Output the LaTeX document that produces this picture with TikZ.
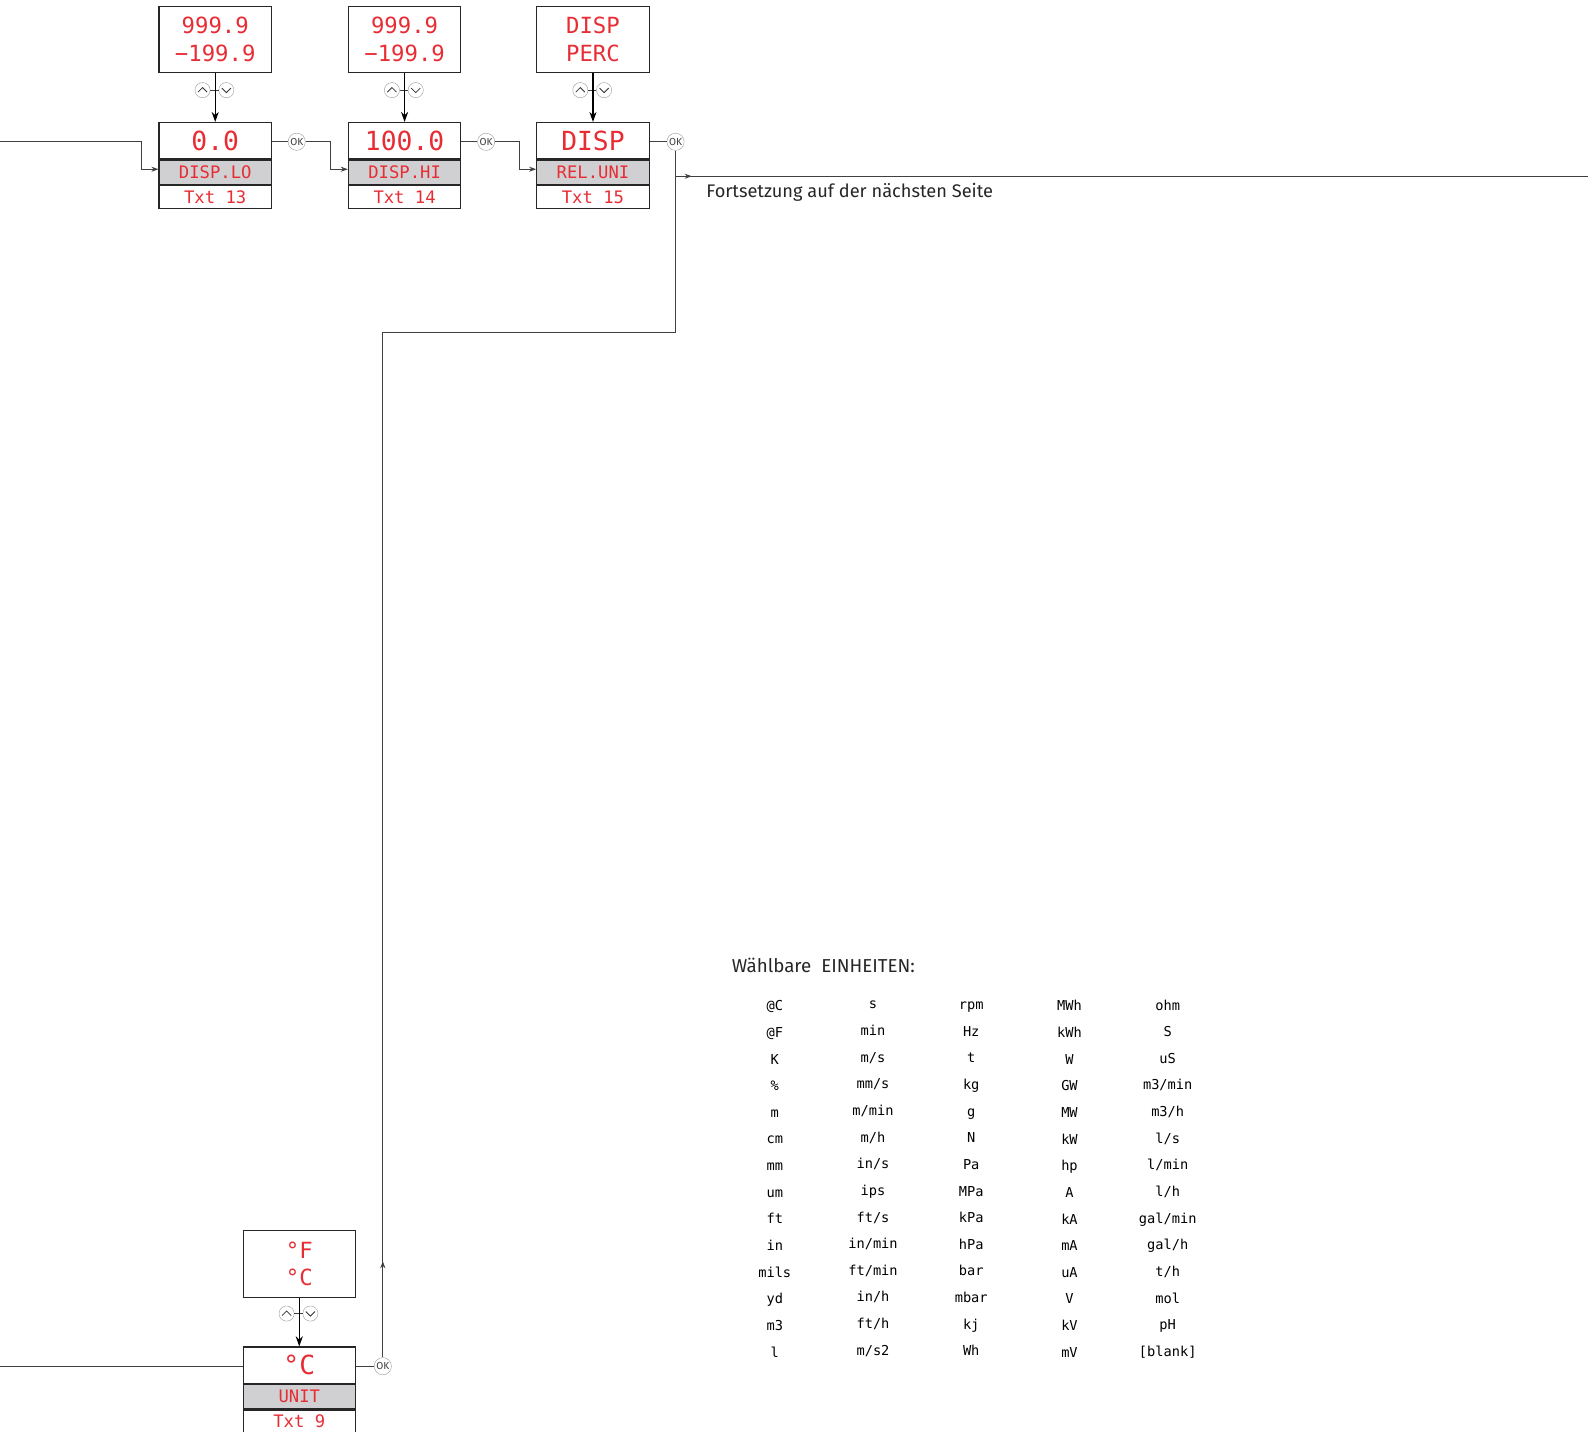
\documentclass[tikz,border=0pt]{standalone}
\usepackage{fontspec}
\setmainfont{Fira Sans}
\newfontfamily\lcdfont{DejaVu Sans Mono}
\usepackage{xcolor}
\definecolor{lcdred}{RGB}{232,44,52}
\definecolor{lcdgray}{RGB}{208,208,210}
\colorlet{colorFlow}{black!75}
\usetikzlibrary{arrows.meta, positioning, decorations.markings}
\tikzset{
  sel/.style={draw=black!85, line width=1.1pt, minimum width=111pt, minimum height=66pt, inner sep=0pt, align=center, text=lcdred, font=\lcdfont\fontsize{22}{27}\selectfont},
  val/.style={draw=black!85, line width=1.1pt, minimum width=111pt, minimum height=36pt, inner sep=0pt, text=lcdred, font=\lcdfont\fontsize{26}{26}\selectfont},
  parname/.style={draw=black!85, line width=1.1pt, fill=lcdgray, minimum width=111pt, minimum height=24pt, inner sep=0pt, text=lcdred, font=\lcdfont\fontsize{17}{17}\selectfont},
  txtbox/.style={draw=black!85, line width=1.1pt, minimum width=111pt, minimum height=23pt, inner sep=0pt, text=lcdred, font=\lcdfont\fontsize{17}{17}\selectfont},
  okbtn/.style={circle, draw=black!40, fill=white, minimum size=17pt, inner sep=0pt, text=black!75, font=\fontsize{10}{10}\selectfont},
  keybtn/.style={circle, draw=black!40, minimum size=15pt, inner sep=0pt},
  chev/.style={line width=0.8pt, black!80},
  flow/.style={draw=colorFlow, line width=0.9pt},
  tip/.style={-{Stealth[length=7pt, width=5pt]}},
  midtip/.style={postaction={decorate}, decoration={markings, mark=at position #1 with {\arrow{Stealth[length=7pt, width=5pt]}}}},
  choose/.style={-{Stealth[length=10pt, width=7pt]}, line width=1.2pt, black},
  unit/.style={align=center, font=\lcdfont\fontsize{13.5}{26.3}\selectfont},
}

\begin{document}
\begin{tikzpicture}[x=1pt, y=-1pt]
\useasboundingbox (0,0) rectangle (1568,1413);

% choices
\node[sel] (lo-sel) at (212.5,39) {999.9\\−199.9};
\node[sel] (hi-sel) at (399.5,39) {999.9\\−199.9};
\node[sel] (rel-sel) at (585.5,39) {DISP\\PERC};
\node[sel] (unit-sel) at (295.5,1248) {°F\\°C};

% parameters
\node[val] (lo) at (212.5,139) {0.0};
\node[parname, below=0pt of lo] (lo-p) {DISP.LO};
\node[txtbox, below=0pt of lo-p] (lo-t) {Txt 13};
\node[val] (hi) at (399.5,139) {100.0};
\node[parname, below=0pt of hi] (hi-p) {DISP.HI};
\node[txtbox, below=0pt of hi-p] (hi-t) {Txt 14};
\node[val] (rel) at (585.5,139) {DISP};
\node[parname, below=0pt of rel] (rel-p) {REL.UNI};
\node[txtbox, below=0pt of rel-p] (rel-t) {Txt 15};
\node[val] (unit) at (295.5,1348) {°C};
\node[parname, below=0pt of unit] (unit-p) {UNIT};
\node[txtbox, below=0pt of unit-p] (unit-t) {Txt 9};

\node[okbtn] (lo-ok) at (293,140) {OK};
\node[okbtn] (hi-ok) at (480,140) {OK};
\node[okbtn] (rel-ok) at (667,140) {OK};
\node[okbtn] (unit-ok) at (378,1349) {OK};

% up/down keys
\foreach \k/\x/\y in {lo/212.5/89, hi/399.5/89, rel/585.5/89, unit/295.5/1297} {
  \node[keybtn] (\k-up) at (\x-12.5,\y) {};
  \node[keybtn] (\k-dn) at (\x+11,\y) {};
  \draw[chev] ([shift={(-4.5,2)}]\k-up.center) -- ([shift={(0,-2.5)}]\k-up.center) -- ([shift={(4.5,2)}]\k-up.center);
  \draw[chev] ([shift={(-4.5,-2)}]\k-dn.center) -- ([shift={(0,2.5)}]\k-dn.center) -- ([shift={(4.5,-2)}]\k-dn.center);
  \draw[flow] (\k-up) -- (\k-dn);
  \draw[choose] (\k-sel) -- (\k);
}

% flow
\coordinate (lo-in) at (0,140);
\coordinate (unit-in) at (0,1349);
\coordinate (join) at (667,174);
\coordinate (next) at (1568,174);
\draw[flow, tip] (lo-in) -- (140,140) |- ([yshift=3pt]lo-p.west);
\draw[flow] (lo.east |- lo-ok) -- (lo-ok);
\draw[flow, tip] (lo-ok) -- ++(33,0) |- ([yshift=3pt]hi-p.west);
\draw[flow] (hi.east |- hi-ok) -- (hi-ok);
\draw[flow, tip] (hi-ok) -- ++(33,0) |- ([yshift=3pt]rel-p.west);
\draw[flow] (rel.east |- rel-ok) -- (rel-ok);
\draw[flow] (rel-ok) -- (join);
\draw[flow, midtip=16pt] (join) -- (next);
\draw[flow] (unit-in) -- (unit.west |- unit-in);
\draw[flow] (unit.east |- unit-ok) -- (unit-ok);
\draw[flow, midtip=95pt] (unit-ok) -- (378,328) -| (join);

\node[anchor=west, text=black!85, font=\fontsize{18}{18}\selectfont] (cont) at (694,190) {Fortsetzung auf der nächsten Seite};

% units
\node[anchor=west, text=black!85, font=\fontsize{18.5}{18}\selectfont] (units) at (719,953) {Wählbare\ \ EINHEITEN:};
\node[unit] (c1) at (765,1164) {@C\\@F\\K\\\%\\m\\cm\\mm\\um\\ft\\in\\mils\\yd\\m3\\l};
\node[unit] (c2) at (862,1164) {s\\min\\m/s\\mm/s\\m/min\\m/h\\in/s\\ips\\ft/s\\in/min\\ft/min\\in/h\\ft/h\\m/s2};
\node[unit] (c3) at (959,1164) {rpm\\Hz\\t\\kg\\g\\N\\Pa\\MPa\\kPa\\hPa\\bar\\mbar\\kj\\Wh};
\node[unit] (c4) at (1056,1164) {MWh\\kWh\\W\\GW\\MW\\kW\\hp\\A\\kA\\mA\\uA\\V\\kV\\mV};
\node[unit] (c5) at (1153,1164) {ohm\\S\\uS\\m3/min\\m3/h\\l/s\\l/min\\l/h\\gal/min\\gal/h\\t/h\\mol\\pH\\{[blank]}};
\end{tikzpicture}
\end{document}
